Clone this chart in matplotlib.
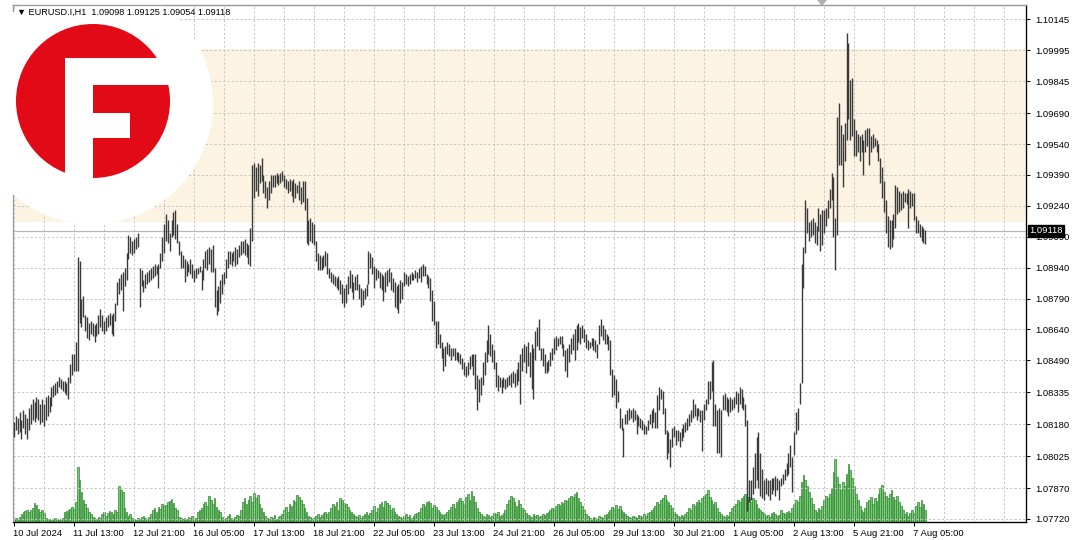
import numpy as np
import matplotlib
matplotlib.use('Agg')
import matplotlib.pyplot as plt
from matplotlib.patches import Circle, Rectangle, Polygon
import matplotlib.transforms as mtransforms

plt.rcParams['font.family'] = ['Liberation Sans', 'DejaVu Sans']

# ---------------- data ----------------
symbol = "EURUSD.I,H1"
last_ohlc = [1.09098, 1.09125, 1.09054, 1.09118]
current_price = 1.09118
zone_low, zone_high = 1.0916, 1.1000
price_ticks = [1.10145, 1.09995, 1.09845, 1.09690, 1.09540, 1.09390, 1.09240,
               1.09090, 1.08940, 1.08790, 1.08640, 1.08490, 1.08335, 1.08180,
               1.08025, 1.07870, 1.07720]
date_labels = ["10 Jul 2024", "11 Jul 13:00", "12 Jul 21:00", "16 Jul 05:00",
               "17 Jul 13:00", "18 Jul 21:00", "22 Jul 05:00", "23 Jul 13:00",
               "24 Jul 21:00", "26 Jul 05:00", "29 Jul 13:00", "30 Jul 21:00",
               "1 Aug 05:00", "2 Aug 13:00", "5 Aug 21:00", "7 Aug 05:00"]
bars_per_label = 32

high = [
 1.0819,1.0822,1.0821,1.0824,1.0820,1.0825,1.0823,1.0821,1.0826,1.0828,
 1.0830,1.0829,1.0831,1.0830,1.0828,1.0830,1.0828,1.0831,1.0832,1.0831,
 1.0836,1.0837,1.0838,1.0839,1.0841,1.0840,1.0839,1.0839,1.0838,1.0841,
 1.0847,1.0852,1.0852,1.0858,1.0899,1.0897,1.0879,1.0880,1.0871,1.0870,
 1.0867,1.0868,1.0867,1.0866,1.0867,1.0871,1.0874,1.0871,1.0868,1.0870,
 1.0871,1.0872,1.0871,1.0872,1.0877,1.0887,1.0889,1.0891,1.0892,1.0894,
 1.0901,1.0910,1.0909,1.0907,1.0908,1.0909,1.0911,1.0894,1.0893,1.0888,
 1.0891,1.0892,1.0893,1.0894,1.0895,1.0896,1.0895,1.0896,1.0901,1.0909,
 1.0915,1.0920,1.0917,1.0911,1.0917,1.0921,1.0922,1.0915,1.0907,1.0902,
 1.0900,1.0898,1.0897,1.0896,1.0898,1.0896,1.0893,1.0894,1.0894,1.0895,
 1.0893,1.0898,1.0902,1.0903,1.0904,1.0903,1.0905,1.0894,1.0883,1.0885,
 1.0888,1.0891,1.0892,1.0898,1.0902,1.0902,1.0901,1.0902,1.0904,1.0903,
 1.0905,1.0907,1.0907,1.0908,1.0906,1.0905,1.0913,1.0944,1.0945,1.0943,
 1.0945,1.0944,1.0947,1.0939,1.0936,1.0933,1.0936,1.0939,1.0939,1.0939,
 1.0940,1.0939,1.0940,1.0941,1.0939,1.0937,1.0936,1.0937,1.0936,1.0937,
 1.0935,1.0934,1.0936,1.0933,1.0936,1.0936,1.0928,1.0917,1.0918,1.0916,
 1.0915,1.0907,1.0901,1.0900,1.0899,1.0900,1.0902,1.0901,1.0894,1.0892,
 1.0891,1.0890,1.0889,1.0890,1.0888,1.0886,1.0884,1.0886,1.0890,1.0893,
 1.0891,1.0887,1.0890,1.0891,1.0886,1.0884,1.0883,1.0884,1.0886,1.0902,
 1.0901,1.0899,1.0895,1.0894,1.0893,1.0892,1.0891,1.0890,1.0892,1.0893,
 1.0894,1.0892,1.0889,1.0887,1.0885,1.0886,1.0888,1.0887,1.0892,1.0891,
 1.0890,1.0891,1.0892,1.0891,1.0893,1.0892,1.0894,1.0895,1.0896,1.0895,
 1.0891,1.0890,1.0889,1.0883,1.0878,1.0868,1.0868,1.0862,1.0858,1.0855,
 1.0856,1.0858,1.0857,1.0855,1.0855,1.0855,1.0853,1.0853,1.0852,1.0850,
 1.0848,1.0846,1.0848,1.0851,1.0852,1.0852,1.0852,1.0842,1.0840,1.0841,
 1.0848,1.0853,1.0859,1.0866,1.0862,1.0857,1.0854,1.0848,1.0842,1.0841,
 1.0840,1.0841,1.0840,1.0841,1.0842,1.0843,1.0844,1.0843,1.0845,1.0848,
 1.0852,1.0855,1.0857,1.0856,1.0858,1.0853,1.0857,1.0855,1.0863,1.0865,
 1.0869,1.0855,1.0855,1.0852,1.0848,1.0849,1.0853,1.0855,1.0860,1.0861,
 1.0860,1.0861,1.0861,1.0857,1.0854,1.0855,1.0857,1.0860,1.0862,1.0864,
 1.0866,1.0867,1.0865,1.0866,1.0864,1.0862,1.0859,1.0858,1.0860,1.0860,
 1.0859,1.0857,1.0866,1.0869,1.0866,1.0864,1.0862,1.0861,1.0859,1.0845,
 1.0842,1.0840,1.0834,1.0826,1.0821,1.0816,1.0823,1.0825,1.0826,1.0825,
 1.0826,1.0825,1.0823,1.0822,1.0821,1.0820,1.0818,1.0817,1.0820,1.0823,
 1.0825,1.0826,1.0824,1.0832,1.0836,1.0835,1.0834,1.0826,1.0815,1.0814,
 1.0811,1.0816,1.0817,1.0815,1.0815,1.0814,1.0816,1.0818,1.0819,1.0821,
 1.0823,1.0825,1.0830,1.0828,1.0826,1.0826,1.0825,1.0825,1.0828,1.0830,
 1.0839,1.0839,1.0848,1.0849,1.0828,1.0825,1.0826,1.0825,1.0832,1.0833,
 1.0831,1.0830,1.0831,1.0830,1.0831,1.0834,1.0833,1.0836,1.0835,1.0831,
 1.0828,1.0820,1.0791,1.0791,1.0797,1.0804,1.0812,1.0814,1.0804,1.0796,
 1.0791,1.0792,1.0791,1.0791,1.0792,1.0792,1.0793,1.0792,1.0791,1.0792,
 1.0794,1.0796,1.0799,1.0804,1.0808,1.0802,1.0814,1.0824,1.0826,1.0838,
 1.0896,1.0904,1.0927,1.0923,1.0916,1.0917,1.0918,1.0916,1.0914,1.0923,
 1.0920,1.0922,1.0922,1.0923,1.0927,1.0932,1.0940,1.0938,1.0918,1.0967,
 1.0974,1.0963,1.0959,1.0964,1.1008,1.1003,1.0985,1.0986,1.0966,1.0961,
 1.0959,1.0958,1.0959,1.0956,1.0961,1.0962,1.0962,1.0958,1.0959,1.0957,
 1.0956,1.0954,1.0947,1.0943,1.0936,1.0927,1.0919,1.0917,1.0917,1.0920,
 1.0934,1.0933,1.0931,1.0930,1.0931,1.0930,1.0930,1.0932,1.0931,1.0930,
 1.0930,1.0919,1.0917,1.0915,1.0914,1.0913,1.09125]

low = [
 1.0812,1.0815,1.0813,1.0814,1.0811,1.0816,1.0813,1.0811,1.0815,1.0818,
 1.0820,1.0819,1.0821,1.0820,1.0818,1.0819,1.0817,1.0820,1.0822,1.0824,
 1.0827,1.0831,1.0832,1.0833,1.0836,1.0835,1.0834,1.0833,1.0832,1.0830,
 1.0838,1.0842,1.0844,1.0844,1.0844,1.0867,1.0865,1.0870,1.0863,1.0860,
 1.0859,1.0862,1.0861,1.0858,1.0861,1.0862,1.0865,1.0863,1.0862,1.0863,
 1.0865,1.0866,1.0862,1.0861,1.0868,1.0876,1.0881,1.0883,1.0873,1.0885,
 1.0888,1.0898,1.0901,1.0900,1.0901,1.0903,1.0904,1.0875,1.0885,1.0882,
 1.0884,1.0886,1.0887,1.0888,1.0889,1.0890,1.0891,1.0884,1.0894,1.0897,
 1.0901,1.0907,1.0906,1.0902,1.0909,1.0910,1.0908,1.0906,1.0900,1.0894,
 1.0894,1.0887,1.0890,1.0892,1.0891,1.0889,1.0887,1.0889,1.0891,1.0892,
 1.0883,1.0888,1.0894,1.0893,1.0896,1.0892,1.0892,1.0875,1.0871,1.0873,
 1.0877,1.0881,1.0886,1.0889,1.0894,1.0896,1.0895,1.0897,1.0895,1.0896,
 1.0899,1.0900,1.0901,1.0900,1.0899,1.0896,1.0895,1.0907,1.0928,1.0931,
 1.0929,1.0935,1.0936,1.0930,1.0928,1.0923,1.0927,1.0930,1.0933,1.0933,
 1.0935,1.0934,1.0935,1.0936,1.0933,1.0932,1.0930,1.0931,1.0929,1.0926,
 1.0928,1.0930,1.0927,1.0925,1.0926,1.0922,1.0906,1.0905,1.0907,1.0906,
 1.0905,1.0897,1.0893,1.0893,1.0893,1.0894,1.0895,1.0891,1.0889,1.0887,
 1.0886,1.0885,1.0884,1.0883,1.0881,1.0877,1.0875,1.0877,1.0881,1.0884,
 1.0882,1.0879,1.0883,1.0883,1.0879,1.0875,1.0876,1.0879,1.0880,1.0886,
 1.0894,1.0891,1.0884,1.0888,1.0889,1.0884,1.0883,1.0878,1.0882,1.0885,
 1.0887,1.0883,1.0882,1.0875,1.0874,1.0872,1.0877,1.0879,1.0885,1.0886,
 1.0885,1.0886,1.0888,1.0888,1.0889,1.0887,1.0889,1.0887,1.0890,1.0890,
 1.0886,1.0884,1.0878,1.0868,1.0866,1.0855,1.0857,1.0855,1.0850,1.0844,
 1.0846,1.0852,1.0851,1.0849,1.0851,1.0849,1.0849,1.0848,1.0847,1.0845,
 1.0842,1.0841,1.0842,1.0845,1.0846,1.0842,1.0835,1.0825,1.0829,1.0832,
 1.0837,1.0842,1.0848,1.0852,1.0851,1.0848,1.0845,1.0836,1.0834,1.0836,
 1.0833,1.0836,1.0835,1.0836,1.0837,1.0836,1.0838,1.0836,1.0837,1.0839,
 1.0828,1.0844,1.0848,1.0843,1.0846,1.0841,1.0835,1.0830,1.0849,1.0856,
 1.0854,1.0849,1.0846,1.0843,1.0843,1.0844,1.0846,1.0849,1.0852,1.0854,
 1.0856,1.0857,1.0855,1.0851,1.0844,1.0841,1.0848,1.0852,1.0854,1.0849,
 1.0854,1.0858,1.0857,1.0860,1.0858,1.0855,1.0854,1.0855,1.0856,1.0854,
 1.0853,1.0850,1.0857,1.0861,1.0859,1.0857,1.0857,1.0854,1.0842,1.0831,
 1.0832,1.0826,1.0829,1.0816,1.0815,1.0802,1.0818,1.0818,1.0820,1.0821,
 1.0819,1.0820,1.0813,1.0817,1.0816,1.0815,1.0813,1.0813,1.0815,1.0818,
 1.0816,1.0819,1.0816,1.0816,1.0825,1.0830,1.0823,1.0813,1.0801,1.0804,
 1.0797,1.0807,1.0812,1.0808,1.0810,1.0807,1.0810,1.0812,1.0814,1.0815,
 1.0817,1.0819,1.0821,1.0822,1.0820,1.0822,1.0819,1.0805,1.0820,1.0825,
 1.0828,1.0830,1.0834,1.0817,1.0817,1.0804,1.0804,1.0802,1.0825,1.0825,
 1.0824,1.0822,1.0824,1.0825,1.0826,1.0828,1.0824,1.0828,1.0826,1.0825,
 1.0817,1.0776,1.0780,1.0781,1.0784,1.0787,1.0791,1.0787,1.0783,1.0782,
 1.0781,1.0784,1.0783,1.0781,1.0784,1.0786,1.0783,1.0786,1.0781,1.0788,
 1.0789,1.0791,1.0793,1.0794,1.0797,1.0785,1.0803,1.0813,1.0815,1.0828,
 1.0838,1.0884,1.0901,1.0911,1.0907,1.0909,1.0910,1.0906,1.0905,1.0912,
 1.0902,1.0905,1.0911,1.0914,1.0918,1.0923,1.0927,1.0909,1.0893,1.0910,
 1.0944,1.0944,1.0933,1.0946,1.0956,1.0966,1.0956,1.0958,1.0948,1.0948,
 1.0950,1.0946,1.0950,1.0939,1.0950,1.0953,1.0944,1.0950,1.0952,1.0953,
 1.0950,1.0946,1.0935,1.0928,1.0921,1.0911,1.0904,1.0903,1.0904,1.0908,
 1.0913,1.0920,1.0921,1.0922,1.0923,1.0926,1.0925,1.0913,1.0923,1.0924,
 1.0917,1.0911,1.0911,1.0909,1.0907,1.0906,1.09054]

volume = [
 3,4,3,5,8,10,11,12,10,12,14,19,17,13,10,12,9,
 4,3,3,2,3,4,3,2,3,4,10,11,12,13,
 15,13,20,55,42,30,22,18,14,10,8,5,4,3,
 5,4,8,10,6,9,11,10,8,12,10,
 36,32,30,14,10,6,8,4,
 3,2,4,3,5,6,4,3,5,8,
 12,14,10,15,13,18,16,17,20,21,23,19,14,12,
 5,4,3,4,3,5,4,6,3,4,
 10,12,14,18,20,16,26,22,18,24,15,12,10,
 5,3,4,6,8,4,3,5,7,6,
 12,20,24,18,22,26,20,29,24,27,18,14,10,
 6,4,3,5,4,7,3,5,6,8,
 12,15,10,18,16,22,20,27,25,22,18,14,10,
 6,5,3,4,6,8,5,7,9,10,8,
 10,14,18,16,20,12,24,22,19,18,15,12,10,8,
 6,5,7,4,6,8,10,7,9,
 12,16,10,14,18,20,15,21,19,17,12,14,10,8,
 6,5,4,6,8,5,7,4,6,8,9,
 10,14,18,16,20,21,19,14,17,15,12,10,8,7,
 8,10,12,15,18,14,20,22,24,21,18,25,28,22,31,26,20,14,10,8,
 6,5,8,7,5,6,9,8,10,6,7,9,
 12,18,22,26,24,20,16,22,18,14,12,9,7,6,5,8,6,7,5,
 6,8,7,9,10,12,14,13,16,18,
 17,20,19,22,21,24,26,25,28,30,
 24,20,16,12,8,6,
 4,3,5,4,3,6,5,4,7,8,
 10,12,15,14,17,13,16,12,10,8,6,
 5,4,6,5,4,7,6,5,8,6,9,10,12,
 14,16,20,18,22,24,27,22,20,17,14,10,8,
 6,5,7,6,8,
 10,14,12,18,16,20,22,19,24,26,28,32,25,22,18,20,14,10,
 8,6,5,7,6,
 10,14,16,18,22,20,24,26,28,22,25,20,24,
 22,18,14,12,10,
 8,6,7,5,9,10,8,6,7,12,9,8,10,11,9,
 14,18,22,20,26,
 40,47,42,36,30,24,
 18,12,10,14,12,16,
 22,26,24,28,34,
 50,63,45,38,32,40,36,
 48,58,52,44,36,28,
 22,16,12,10,14,
 20,22,25,18,24,21,28,
 34,37,30,26,24,
 28,32,25,22,26,20,16,
 12,8,10,6,9,12,8,
 16,20,15,22,18,12]

# ---------------- figure ----------------
W, H = 1080, 540
fig = plt.figure(figsize=(W / 100, H / 100), dpi=100)
fig.patch.set_facecolor('white')

L, R, T, B = 13, 1026, 5, 522
rect = [L / W, 1 - B / H, (R - L) / W, (B - T) / H]
ax = fig.add_axes(rect)
axv = ax.twinx()
ax.set_zorder(axv.get_zorder() + 1)
ax.patch.set_visible(False)

n = min(len(high), len(low))
xb = np.arange(n)
nv = len(volume)

# price scale
ax.set_ylim(1.07705, 1.10215)
ax.set_xlim(-0.53, 539.7)
axv.set_ylim(0, B - T)

# zone
ax.add_patch(Rectangle((-0.53, zone_low), 540.3, zone_high - zone_low,
                       facecolor='#FCF3E3', edgecolor='none', zorder=0.2))

# grid
grid_kw = dict(color='#c4c4c4', lw=0.7, linestyle=(0, (2.2, 2.2)))
for p in price_ticks:
    ax.axhline(p, zorder=0.5, **grid_kw)
for g in np.arange(0, 540, bars_per_label // 2):
    ax.axvline(g, zorder=0.5, **grid_kw)

# current price line
ax.axhline(current_price, color='#b8b8b8', lw=0.9, zorder=0.6)

# volume
axv.bar(np.arange(nv), volume, width=0.9, color='#7cc67c',
        edgecolor='#2a8a2a', linewidth=0.5, zorder=2)
axv.set_yticks([])
axv.tick_params(axis='both', length=0, labelright=False, labelleft=False)

# price bars
ax.vlines(xb, low[:n], high[:n], color='#3a3a3a', lw=1.0, zorder=3)

# axes styling
for s in ['left', 'top']:
    ax.spines[s].set_color('#9a9a9a')
    axv.spines[s].set_color('#9a9a9a')
for s in ['right', 'bottom']:
    ax.spines[s].set_color('black')
    axv.spines[s].set_color('black')
    ax.spines[s].set_linewidth(0.9)

FS = 6.8
ax.yaxis.tick_right()
ax.set_yticks(price_ticks)
ax.set_yticklabels([f"{p:.5f}" for p in price_ticks])
ax.tick_params(axis='y', direction='out', length=3, width=0.7, pad=4,
               labelsize=FS, colors='black')
xt = np.arange(len(date_labels)) * bars_per_label
ax.set_xticks(xt)
ax.set_xticklabels(date_labels)
ax.tick_params(axis='x', direction='out', length=3, width=0.7, pad=2,
               labelsize=FS, colors='black')
offset = mtransforms.ScaledTranslation(-1 / 100, 0, fig.dpi_scale_trans)
for lbl in ax.get_xticklabels():
    lbl.set_ha('left')
    lbl.set_transform(lbl.get_transform() + offset)

# current price label (covers the 1.09090 tick label, as in the terminal)
tr = mtransforms.blended_transform_factory(ax.transAxes, ax.transData)
ax.text(1.0 + 3 / (R - L), current_price, f"{current_price:.5f}", transform=tr,
        ha='left', va='center', fontsize=FS, color='white', zorder=10,
        bbox=dict(boxstyle='square,pad=0.15', facecolor='black', edgecolor='black'),
        clip_on=False)

# ---------------- logo overlay ----------------
lax = fig.add_axes([0, 0, 1, 1], zorder=10)
lax.set_xlim(0, W)
lax.set_ylim(H, 0)
lax.axis('off')
lax.patch.set_visible(False)
lax.add_patch(Circle((92, 103), 121, facecolor='white', edgecolor='none'))
red = '#E10A16'
lax.add_patch(Circle((93, 101), 77, facecolor=red, edgecolor='none'))
lax.add_patch(Rectangle((65, 58), 28, 130, facecolor='white', edgecolor='none'))
lax.add_patch(Rectangle((65, 58), 120, 27, facecolor='white', edgecolor='none'))
lax.add_patch(Rectangle((90, 113), 40, 25, facecolor='white', edgecolor='none'))
# frame top line and marker
lax.plot([L, R], [T, T], color='#9a9a9a', lw=0.9)
lax.plot([L, L], [T, 11], color='#9a9a9a', lw=0.9)
lax.add_patch(Polygon([(817, 0), (827, 0), (822, 6)], closed=True,
                      facecolor='#b0b0b0', edgecolor='none'))

# header
o, h_, l_, c_ = last_ohlc
fig.text(17 / W, 1 - 12.5 / H,
         f"\u25BC {symbol}  {o:.5f} {h_:.5f} {l_:.5f} {c_:.5f}",
         fontsize=6.6, color='black', ha='left', va='center', zorder=20,
         family=['Liberation Sans', 'DejaVu Sans'])

fig.savefig('out.png', dpi=100)
